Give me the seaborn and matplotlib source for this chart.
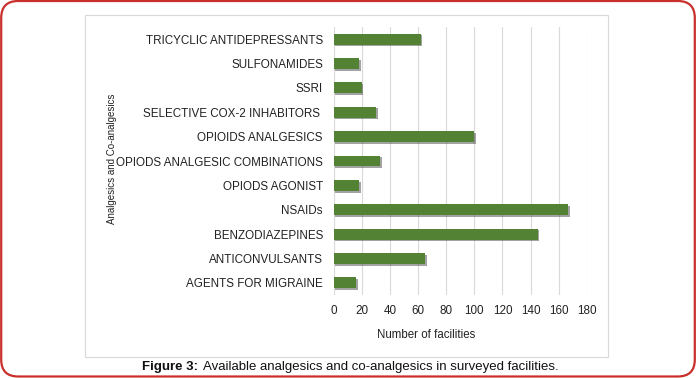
import numpy as np
import pandas as pd
import matplotlib
matplotlib.use("Agg")
import matplotlib.pyplot as plt
import matplotlib.patheffects as pe
from matplotlib.patches import Rectangle, FancyBboxPatch
import seaborn as sns

# datos
categorias = ["TRICYCLIC ANTIDEPRESSANTS", "SULFONAMIDES", "SSRI",
              "SELECTIVE COX-2 INHABITORS ", "OPIOIDS ANALGESICS",
              "OPIODS ANALGESIC COMBINATIONS", "OPIODS AGONIST", "NSAIDs",
              "BENZODIAZEPINES", "ANTICONVULSANTS", "AGENTS FOR MIGRAINE"]
facilidades = [62, 18, 20, 30, 100, 33, 18, 167, 145, 65, 16]
ticks_x = [0, 20, 40, 60, 80, 100, 120, 140, 160, 180]

df = pd.DataFrame({"categoria": categorias, "n": facilidades})

sns.set_theme(style="white")
plt.rcParams['font.family'] = ['Liberation Sans', 'DejaVu Sans']

fig = plt.figure(figsize=(6.96, 3.78), dpi=100)
ax = fig.add_axes([334 / 696, 1 - 295 / 378, 252.7 / 696, 268 / 378])

sns.barplot(data=df, y="categoria", x="n", color="#548235", width=0.45,
            saturation=1, linewidth=0, ax=ax, zorder=3)
for p in ax.patches:
    p.set_path_effects([pe.SimplePatchShadow(offset=(1.0, -1.2),
                                             shadow_rgbFace='#333333', alpha=0.45),
                        pe.Normal()])

ax.set_xlim(0, 180)
ax.set_xticks(ticks_x)
ax.grid(axis='x', color='#d9d9d9', linewidth=0.8, zorder=0)
ax.tick_params(axis='both', length=0, labelsize=8.4, colors='#222222', pad=6)
ax.tick_params(axis='x', pad=7)
ax.tick_params(axis='y', pad=8)
sns.despine(ax=ax, left=True, bottom=True, top=True, right=True)

ax.set_xlabel('Number of facilities', fontsize=8.3, color='#222222')
ax.xaxis.set_label_coords(0.364, -0.127)
ax.set_ylabel('Analgesics and Co-analgesics', fontsize=7, color='#222222')
ax.yaxis.set_label_coords(-0.86, 0.507)

# marco interior gris
fig.patches.append(Rectangle((85 / 696, 1 - 357 / 378), 523 / 696, 342 / 378,
                             transform=fig.transFigure, fill=False,
                             edgecolor='#d9d9d9', linewidth=0.8))
# borde rojo redondeado
fig.patches.append(FancyBboxPatch((1.2, 1.5), 693.6, 375.5,
                                  boxstyle="round,pad=0,rounding_size=17",
                                  transform=None, fill=False,
                                  edgecolor='#c9302c', linewidth=1.6))

fig.text(198 / 696, 1 - 367 / 378, 'Figure 3:', fontsize=9.5, fontweight='bold',
         ha='right', va='center', color='#111111')
fig.text(203 / 696, 1 - 367 / 378,
         'Available analgesics and co-analgesics in surveyed facilities.',
         fontsize=9.5, ha='left', va='center', color='#111111')

fig.savefig('out.png', dpi=100)
